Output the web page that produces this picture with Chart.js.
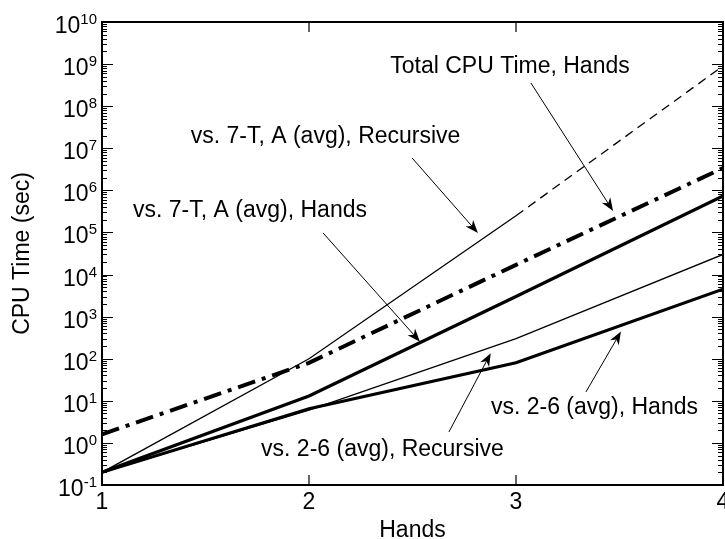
<!DOCTYPE html>
<html><head><meta charset="utf-8">
<script src="https://cdn.jsdelivr.net/npm/chart.js@4.4.1/dist/chart.umd.min.js"></script>
<style>html,body{margin:0;padding:0;background:#fff}canvas{display:block}</style>
</head><body>
<canvas id="c" width="725" height="539"></canvas>
<script>
// ---- data ----
const hands = [1, 2, 3, 4];
const totalCpuHands = [1.6, 80, 1.7e4, 3.4e6];
const recursive7T = [0.2, 100, 2.5e5, 9e8];
const hands7T = [0.2, 13, 3.0e3, 7.4e5];
const recursive26 = [0.2, 6, 300, 3.0e4];
const hands26 = [0.2, 6.5, 80, 4.5e3];
const xTickLabels = ['1', '2', '3', '4'];
const yTickExponents = [-1, 0, 1, 2, 3, 4, 5, 6, 7, 8, 9, 10];

// annotation texts, positions in data units [hands, log10(sec)]
const noteTexts = ['Total CPU Time, Hands', 'vs. 7-T, A (avg), Recursive', 'vs. 7-T, A (avg), Hands', 'vs. 2-6 (avg), Recursive', 'vs. 2-6 (avg), Hands'];
const noteTextPos = [[2.971, 8.94], [2.080, 7.276], [1.715, 5.518], [2.355, -0.166], [3.379, 0.831]];
const arrowTails = [[3.072, 8.551], [2.498, 6.770], [2.068, 4.988], [2.676, 0.261], [3.338, 1.211]];
const arrowTips = [[3.469, 5.511], [2.816, 4.988], [2.536, 2.406], [2.878, 2.131], [3.507, 2.644]];

const FONT = '"Liberation Sans", Arial, Helvetica, sans-serif';
const pts = arr => hands.map((x, i) => ({x: x, y: arr[i]}));

const framePlugin = {
  id: 'frame',
  afterDatasetsDraw(chart) {
    const ctx = chart.ctx, ca = chart.chartArea, xs = chart.scales.x, ys = chart.scales.y;
    ctx.save();
    ctx.strokeStyle = '#000';
    ctx.lineWidth = 1.2;
    ctx.beginPath();
    hands.forEach(h => {
      const px = xs.getPixelForValue(h);
      ctx.moveTo(px, ca.bottom); ctx.lineTo(px, ca.bottom - 10);
      ctx.moveTo(px, ca.top); ctx.lineTo(px, ca.top + 10);
    });
    ctx.stroke();
    ctx.lineWidth = 1;
    ctx.beginPath();
    yTickExponents.forEach(e => {
      for (let m = 1; m <= 9; m++) {
        const v = m * Math.pow(10, e);
        if (v > 1e10 * 1.0001) break;
        const py = Math.round(ys.getPixelForValue(v)) + 0.5;
        const len = m === 1 ? 11 : 5;
        ctx.moveTo(ca.left, py); ctx.lineTo(ca.left + len, py);
        ctx.moveTo(ca.right, py); ctx.lineTo(ca.right - len, py);
      }
    });
    ctx.stroke();
    ctx.lineWidth = 2;
    ctx.strokeRect(ca.left, ca.top, ca.right - ca.left, ca.bottom - ca.top);
    ctx.restore();
  },
  afterDraw(chart) {
    const ctx = chart.ctx, ca = chart.chartArea, xs = chart.scales.x, ys = chart.scales.y;
    ctx.save();
    ctx.fillStyle = '#000';
    ctx.textBaseline = 'alphabetic';
    ctx.textAlign = 'left';
    // y tick labels 10^n
    yTickExponents.forEach(e => {
      const py = ys.getPixelForValue(Math.pow(10, e));
      const sup = String(e);
      ctx.font = '23px ' + FONT;
      const w10 = ctx.measureText('10').width;
      ctx.font = '15px ' + FONT;
      const ws = ctx.measureText(sup).width;
      const x0 = ca.left - 5 - w10 - ws;
      ctx.font = '23px ' + FONT;
      ctx.fillText('10', x0, py + 11);
      ctx.font = '15px ' + FONT;
      ctx.fillText(sup, x0 + w10, py + 2);
    });
    // annotations
    ctx.font = '23px ' + FONT;
    ctx.textAlign = 'center';
    ctx.textBaseline = 'middle';
    const P = p => [xs.getPixelForValue(p[0]), ys.getPixelForValue(Math.pow(10, p[1]))];
    noteTexts.forEach((t, i) => {
      const [tx, ty] = P(noteTextPos[i]);
      ctx.fillText(t, tx, ty);
      const [ax, ay] = P(arrowTails[i]);
      const [bx, by] = P(arrowTips[i]);
      const ang = Math.atan2(by - ay, bx - ax);
      const L = 13, W = 5;
      ctx.strokeStyle = '#000';
      ctx.lineWidth = 1;
      ctx.beginPath();
      ctx.moveTo(ax, ay);
      ctx.lineTo(bx - Math.cos(ang) * L * 0.7, by - Math.sin(ang) * L * 0.7);
      ctx.stroke();
      const c = Math.cos(ang), s = Math.sin(ang);
      ctx.beginPath();
      ctx.moveTo(bx, by);
      ctx.lineTo(bx - c * L - s * W, by - s * L + c * W);
      ctx.lineTo(bx - c * L * 0.7, by - s * L * 0.7);
      ctx.lineTo(bx - c * L + s * W, by - s * L - c * W);
      ctx.closePath();
      ctx.fill();
    });
    ctx.restore();
  }
};

new Chart(document.getElementById('c'), {
  type: 'line',
  data: {
    datasets: [
      {label: 'Total CPU Time, Hands', data: pts(totalCpuHands), borderColor: '#000', borderWidth: 4, borderDash: [18, 7, 4, 7], borderCapStyle: 'butt'},
      {label: 'vs. 7-T, A (avg), Recursive', data: pts(recursive7T), borderColor: '#000', borderWidth: 1.3,
        segment: {borderDash: c => c.p0DataIndex >= 2 ? [9, 6] : []}},
      {label: 'vs. 7-T, A (avg), Hands', data: pts(hands7T), borderColor: '#000', borderWidth: 3.2},
      {label: 'vs. 2-6 (avg), Recursive', data: pts(recursive26), borderColor: '#000', borderWidth: 1.3},
      {label: 'vs. 2-6 (avg), Hands', data: pts(hands26), borderColor: '#000', borderWidth: 3.2}
    ]
  },
  options: {
    responsive: false,
    animation: false,
    devicePixelRatio: 1,
    layout: {padding: {top: 22, right: 2, left: 0, bottom: 0}},
    elements: {point: {radius: 0}, line: {tension: 0, borderJoinStyle: 'miter'}},
    plugins: {legend: {display: false}, tooltip: {enabled: false}},
    scales: {
      x: {
        type: 'linear', min: 1, max: 4,
        grid: {display: false, drawTicks: false},
        border: {display: false},
        ticks: {stepSize: 1, padding: 4, color: '#000', font: {family: FONT, size: 23},
          callback: v => xTickLabels[hands.indexOf(v)] || ''},
        title: {display: true, text: 'Hands', color: '#000', font: {family: FONT, size: 23, lineHeight: 1}, padding: {top: 0, bottom: -3}},
        afterFit: s => { s.height = 54; s.paddingLeft = 0; s.paddingRight = 0; }
      },
      y: {
        type: 'logarithmic', min: 0.1, max: 1e10,
        grid: {display: false, drawTicks: false},
        border: {display: false},
        ticks: {display: false},
        title: {display: true, text: 'CPU Time (sec)', color: '#000', font: {family: FONT, size: 23, lineHeight: 1}, padding: {top: 11.5, bottom: 0}},
        afterFit: s => { s.width = 102; s.paddingTop = 0; s.paddingBottom = 0; }
      }
    }
  },
  plugins: [framePlugin]
});
</script>
</body></html>
